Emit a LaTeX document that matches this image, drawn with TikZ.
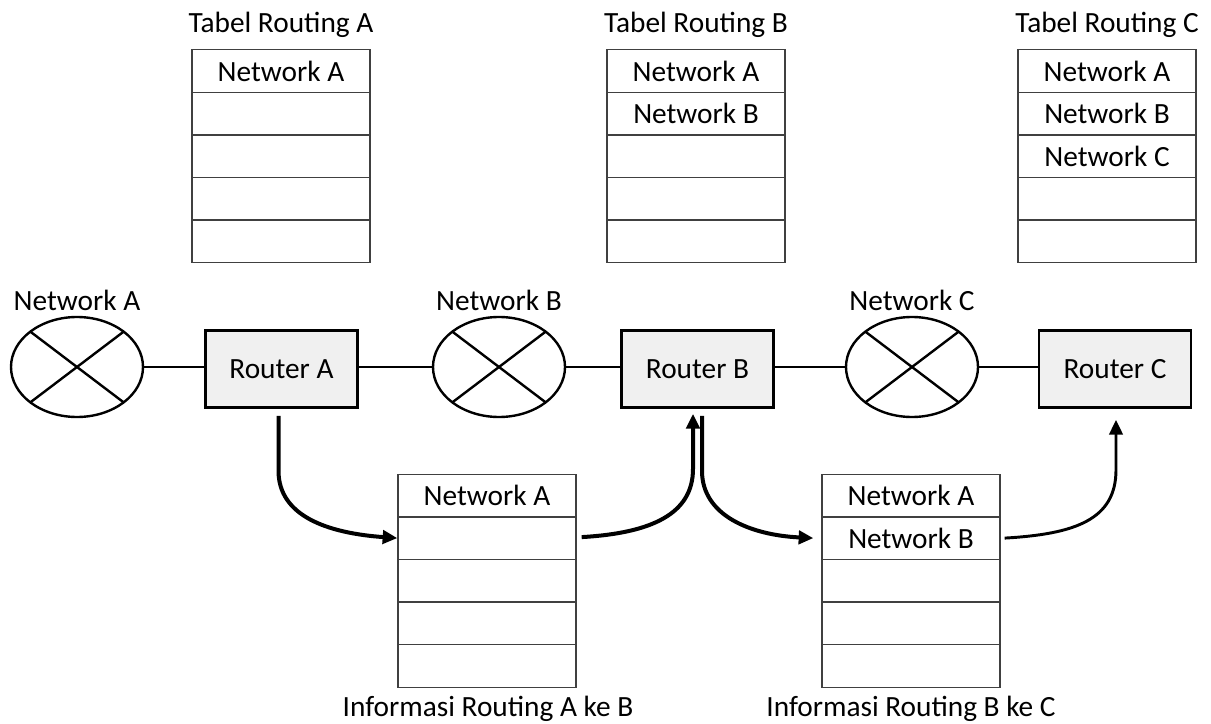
\documentclass[tikz,border=0pt]{standalone}
\usepackage{fontspec}
\setmainfont{Carlito}
\usetikzlibrary{shapes.geometric,arrows.meta,calc}
\begin{document}
\begin{tikzpicture}[x=0.75pt,y=-0.75pt,
  every node/.style={font=\fontsize{22}{26}\selectfont},
  cell/.style={draw=black!75,line width=1pt,minimum width=133.5pt,minimum height=32pt,inner sep=0pt},
  net/.style={ellipse,draw=black,line width=1.8pt,minimum width=99pt,minimum height=75pt,inner sep=0pt},
  router/.style={draw=black,line width=1.8pt,fill=black!6,minimum width=114pt,minimum height=58pt,inner sep=0pt},
  link/.style={line width=1pt},
  flow/.style={line width=3pt,-{Triangle[length=11pt,width=10pt]}},
  flowthin/.style={line width=2.2pt,-{Triangle[length=11pt,width=10pt]}},
  lbl/.style={inner sep=0pt}]
\useasboundingbox (0,0) rectangle (1211,724);

% Tables
\foreach \t/\cx/\cy in {tA/281/71, tB/696/71, tC/1107/71, iAB/487/495.5, iBC/911/495.5}{
  \foreach \i in {1,...,5}{
    \node[cell] (\t\i) at (\cx,{\cy+(\i-1)*42.6}) {};
  }
}
\node at (tA1) {Network A};
\node at (tB1) {Network A};
\node at (tB2) {Network B};
\node at (tC1) {Network A};
\node at (tC2) {Network B};
\node at (tC3) {Network C};
\node at (iAB1) {Network A};
\node at (iBC1) {Network A};
\node at (iBC2) {Network B};

\node[lbl] (ttA) at (281,25) {Tabel Routing A};
\node[lbl] (ttB) at (696,25) {Tabel Routing B};
\node[lbl] (ttC) at (1107,25) {Tabel Routing C};
\node[lbl] (tiAB) at (488,709) {Informasi Routing A ke B};
\node[lbl] (tiBC) at (911,709) {Informasi Routing B ke C};

% Networks
\foreach \n/\cx/\name in {nA/77/A, nB/499/B, nC/912/C}{
  \node[net] (\n) at (\cx,367) {};
  \draw[line width=1.8pt] ($(\n)+(-46.7,-35.4)$) -- ($(\n)+(46.7,35.4)$);
  \draw[line width=1.8pt] ($(\n)+(46.7,-35.4)$) -- ($(\n)+(-46.7,35.4)$);
  \node[lbl] (l\n) at (\cx,300) {Network \name};
}

% Routers
\node[router] (rA) at (281.5,369) {Router A};
\node[router] (rB) at (697.5,369) {Router B};
\node[router] (rC) at (1115,369) {Router C};

% Links
\draw[link] (nA.east) -- (nA.east -| rA.west);
\draw[link] (rA.east |- nB.west) -- (nB.west);
\draw[link] (nB.east) -- (nB.east -| rB.west);
\draw[link] (rB.east |- nC.west) -- (nC.west);
\draw[link] (nC.east) -- (nC.east -| rC.west);

% Flows
\coordinate (a1s) at ($(rA.south)+(-3,7)$);
\draw[flow] (a1s) -- ++(0,55) .. controls ++(0,45) and ($(iAB2.west)+(-70,-5)$) .. (iAB2.west);
\coordinate (a2s) at ($(iAB2.east)+(5,-1)$);
\coordinate (a2e) at ($(rB.south)+(-4.5,5)$);
\draw[flow] (a2s) .. controls ++(70,-4) and ($(a2e)+(0,100)$) .. ($(a2e)+(0,55)$) -- (a2e);
\coordinate (a3s) at ($(rB.south)+(4.5,7)$);
\draw[flow] (a3s) -- ++(0,55) .. controls ++(0,45) and ($(iBC2.west)+(-70,-3)$) .. ($(iBC2.west)+(-8,0)$);
\coordinate (a4s) at ($(iBC2.east)+(4,0)$);
\coordinate (a4e) at ($(rC.south)+(1,11)$);
\draw[flowthin] (a4s) .. controls ++(70,-4) and ($(a4e)+(0,100)$) .. ($(a4e)+(0,50)$) -- (a4e);
\end{tikzpicture}
\end{document}
